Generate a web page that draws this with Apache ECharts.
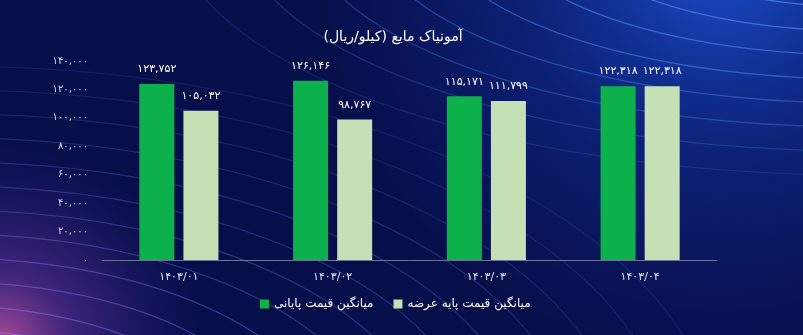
<!DOCTYPE html>
<html><head><meta charset="utf-8">
<script src="https://cdn.jsdelivr.net/npm/echarts@6/dist/echarts.min.js"></script>
<style>html,body{margin:0;padding:0;background:#080f4c;}#c{width:803px;height:335px;}</style>
</head><body><div id="c"></div>
<script>
var title = 'آمونیاک مایع (کیلو/ریال)';
var categories = ['1403/01', '1403/02', '1403/03', '1403/04'];
var seriesNames = ['میانگین قیمت پایانی', 'میانگین قیمت پایه عرضه'];
var finalPrice = [123752, 126146, 115171, 122318];
var basePrice = [105032, 98767, 111799, 122318];
var yMin = 0, yMax = 140000, yStep = 20000;

function fa(s) {
  return String(s).replace(/[0-9]/g, function (d) { return '۰۱۲۳۴۵۶۷۸۹'[+d]; });
}
function fmt(v) {
  return fa(String(v).replace(/\B(?=(\d{3})+(?!\d))/g, ','));
}

var FONT = 'DejaVu Sans';
var RG = echarts.graphic.RadialGradient;
var bg = [
  { type: 'rect', z: -10, silent: true, shape: { x: 0, y: 0, width: 803, height: 335 },
    style: { fill: '#070f4b' } },
  { type: 'rect', z: -9, silent: true, shape: { x: 0, y: 0, width: 803, height: 335 },
    style: { fill: new RG(720, -40, 400, [
      { offset: 0, color: 'rgba(30,85,215,0.9)' }, { offset: 0.5, color: 'rgba(20,60,180,0.4)' }, { offset: 1, color: 'rgba(20,50,160,0)' }], true) } },
  { type: 'rect', z: -9, silent: true, shape: { x: 0, y: 0, width: 803, height: 335 },
    style: { fill: new RG(0, 345, 200, [
      { offset: 0, color: 'rgba(210,90,165,0.85)' }, { offset: 0.35, color: 'rgba(120,60,170,0.5)' }, { offset: 1, color: 'rgba(70,40,150,0)' }], true) } }
];
// decorative curved lines (top-right family)
for (var i = 0; i < 8; i++) {
  var ry = 87 + 24 * i;
  bg.push({ type: 'ellipse', z: -8, silent: true, shape: { cx: 860, cy: -80, rx: ry * 2.7, ry: ry },
    style: { fill: null, stroke: 'rgba(90,150,255,' + Math.max(0.1, 0.65 - i * 0.07) + ')', lineWidth: 1.3 } });
}
// decorative curved lines (bottom-left family)
for (var j = 0; j < 12; j++) {
  var ry2 = 120 + 24 * j;
  bg.push({ type: 'ellipse', z: -8, silent: true, shape: { cx: -50, cy: 450, rx: ry2 * 2, ry: ry2 },
    style: { fill: null, stroke: 'rgba(140,130,255,' + Math.max(0.12, 0.45 - j * 0.03) + ')', lineWidth: 1.2 } });
}

var chart = echarts.init(document.getElementById('c'), null, { renderer: 'canvas' });
chart.setOption({
  backgroundColor: 'transparent',
  graphic: bg,
  title: { text: title, left: 388, top: 25, textAlign: 'center',
    textStyle: { color: '#ffffff', fontSize: 14, fontWeight: 'normal', fontFamily: FONT } },
  legend: { data: seriesNames, left: 255, top: 293, itemWidth: 9, itemHeight: 9, itemGap: 20,
    icon: 'rect', textStyle: { color: '#ffffff', fontSize: 12, fontFamily: FONT } },
  grid: { left: 102, right: 86, top: 61, bottom: 75, containLabel: false },
  xAxis: { type: 'category', data: categories,
    axisLine: { lineStyle: { color: '#6b7396', width: 1 } }, axisTick: { show: false },
    axisLabel: { color: '#e6e8f2', fontSize: 11, fontFamily: FONT, margin: 12, formatter: function (v) { return fa(v); } } },
  yAxis: { type: 'value', min: yMin, max: yMax, interval: yStep,
    axisLine: { show: false }, axisTick: { show: false }, splitLine: { show: false },
    axisLabel: { color: '#d6d9ea', fontSize: 10, fontFamily: FONT, margin: 14, formatter: function (v) { return fmt(v); } } },
  series: [
    { name: seriesNames[0], type: 'bar', data: finalPrice, barWidth: 35, barGap: '26%',
      itemStyle: { color: '#0db14b' },
      label: { show: true, position: 'top', distance: 9, color: '#ffffff', fontSize: 11, fontFamily: FONT,
        formatter: function (p) { return fmt(p.value); } } },
    { name: seriesNames[1], type: 'bar', data: basePrice, barWidth: 35,
      itemStyle: { color: '#c5e0b4' },
      label: { show: true, position: 'top', distance: 9, color: '#ffffff', fontSize: 11, fontFamily: FONT,
        formatter: function (p) { return fmt(p.value); } } }
  ]
});
</script></body></html>
